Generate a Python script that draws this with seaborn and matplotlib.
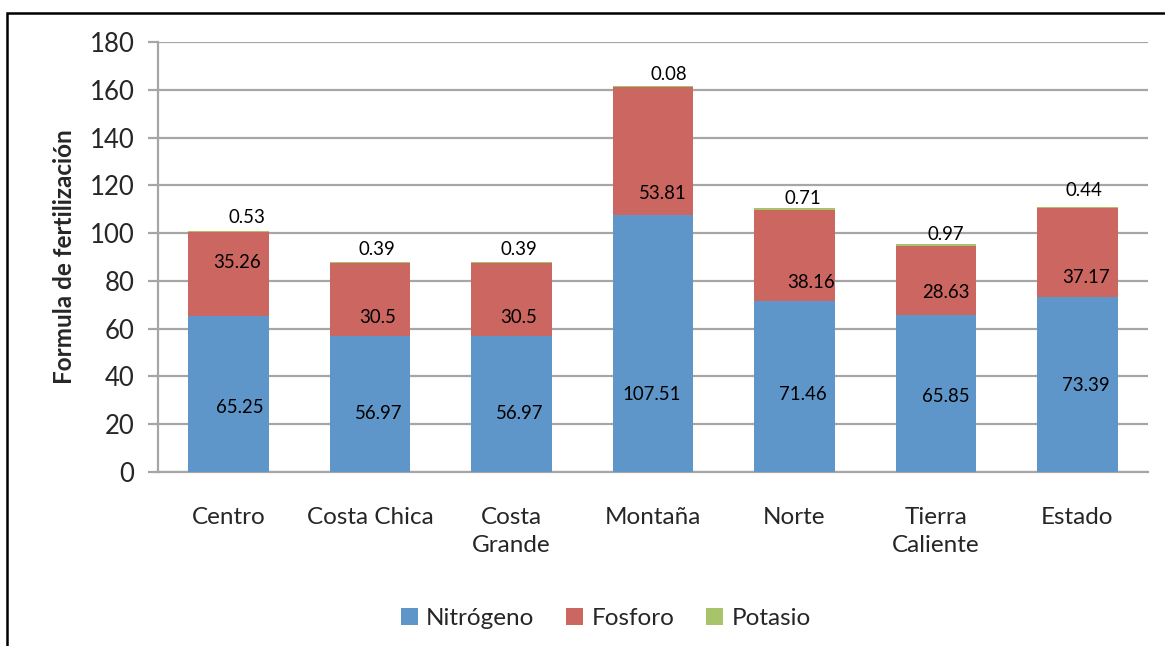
import matplotlib
matplotlib.use("Agg")
import matplotlib.pyplot as plt
from matplotlib.patches import Rectangle, Patch
import numpy as np
import pandas as pd
import seaborn as sns

# Fertilization formula by region (kg/ha)
regiones = ["Centro", "Costa Chica", "Costa\nGrande", "Montaña", "Norte", "Tierra\nCaliente", "Estado"]
nitrogeno = [65.25, 56.97, 56.97, 107.51, 71.46, 65.85, 73.39]
fosforo = [35.26, 30.5, 30.5, 53.81, 38.16, 28.63, 37.17]
potasio = [0.53, 0.39, 0.39, 0.08, 0.71, 0.97, 0.44]
series = ["Nitrógeno", "Fosforo", "Potasio"]
colores = ["#5F96C9", "#CC6660", "#A8C46B"]

# Hand-placed label positions (y in axis units, x offset in category units)
label_y_n = [27.2, 24.7, 24.7, 32.6, 32.6, 31.7, 36.4]
label_y_f = [87.5, 64.5, 64.5, 116.4, 79.5, 75.3, 81.6]
label_dy_p = [5.7, 5.4, 5.4, 4.8, 4.0, 3.8, 7.0]
label_dx_n = [0.08, 0.06, 0.06, -0.01, 0.06, 0.07, 0.06]
label_dx_f = [0.06, 0.05, 0.05, 0.07, 0.12, 0.07, 0.06]
label_dx_p = [0.13, 0.05, 0.05, 0.11, 0.06, 0.07, 0.05]

sns.set_style("white")
plt.rcParams["font.family"] = ["Lato", "DejaVu Sans"]

fig = plt.figure(figsize=(11.65, 6.46), dpi=100)
ax = fig.add_axes([0.1356, 0.2693, 0.8498, 0.6657])

df = pd.DataFrame({"region": regiones, "N": nitrogeno, "P2O5": fosforo, "K2O": potasio})
base_f = np.array(nitrogeno)
base_p = base_f + np.array(fosforo)

sns.barplot(data=df, x="region", y="N", color=colores[0], saturation=1, width=0.57,
            ax=ax, linewidth=0, zorder=3)
sns.barplot(data=df, x="region", y="P2O5", color=colores[1], saturation=1, width=0.57,
            ax=ax, bottom=base_f, linewidth=0, zorder=3)
sns.barplot(data=df, x="region", y="K2O", color=colores[2], saturation=1, width=0.57,
            ax=ax, bottom=base_p, linewidth=0, zorder=3)

lab_fs = 13.4
tot = base_p + np.array(potasio)
for i in range(len(regiones)):
    ax.text(i + label_dx_n[i], label_y_n[i], f"{nitrogeno[i]:g}", ha="center", va="center",
            fontsize=lab_fs, color="black", zorder=5)
    ax.text(i + label_dx_f[i], label_y_f[i], f"{fosforo[i]:g}", ha="center", va="center",
            fontsize=lab_fs, color="black", zorder=5)
    ax.text(i + label_dx_p[i], tot[i] + label_dy_p[i], f"{potasio[i]:g}", ha="center", va="center",
            fontsize=lab_fs, color="black", zorder=5)

ax.set_ylim(0, 180)
ax.set_xlim(-0.5, len(regiones) - 0.5)
ax.set_yticks(np.arange(0, 181, 20))
ax.yaxis.grid(True, color="#A6A6A6", linewidth=1.6, zorder=0)
ax.set_axisbelow(True)
for s in ["top", "right"]:
    ax.spines[s].set_visible(False)
for s in ["left", "bottom"]:
    ax.spines[s].set_color("#A6A6A6")
    ax.spines[s].set_linewidth(1.6)
ax.tick_params(axis="y", which="major", left=True, length=7, width=1.6, color="#A6A6A6",
               labelsize=18.5, pad=10)
ax.tick_params(axis="x", bottom=False, labelsize=17.5, pad=22)
ax.set_xlabel("")
ax.set_ylabel("Formula de fertilización", fontsize=17.5, fontweight="bold", labelpad=10)
for t in ax.get_xticklabels():
    t.set_linespacing(1.4)

handles = [Patch(facecolor=c, edgecolor="none") for c in colores]
fig.legend(handles, series, loc="center", bbox_to_anchor=(0.52, 0.043), ncol=3, frameon=False,
           fontsize=17.5, handlelength=0.7, handleheight=0.7, handletextpad=0.35, columnspacing=1.3)

# Outer frame of the chart
fig.patches.append(Rectangle((7 / 1165, -0.1), 1.2, 1.1 - 13 / 646, transform=fig.transFigure,
                             fill=False, edgecolor="black", linewidth=1.8, zorder=10))

fig.savefig("out.png", dpi=100)
